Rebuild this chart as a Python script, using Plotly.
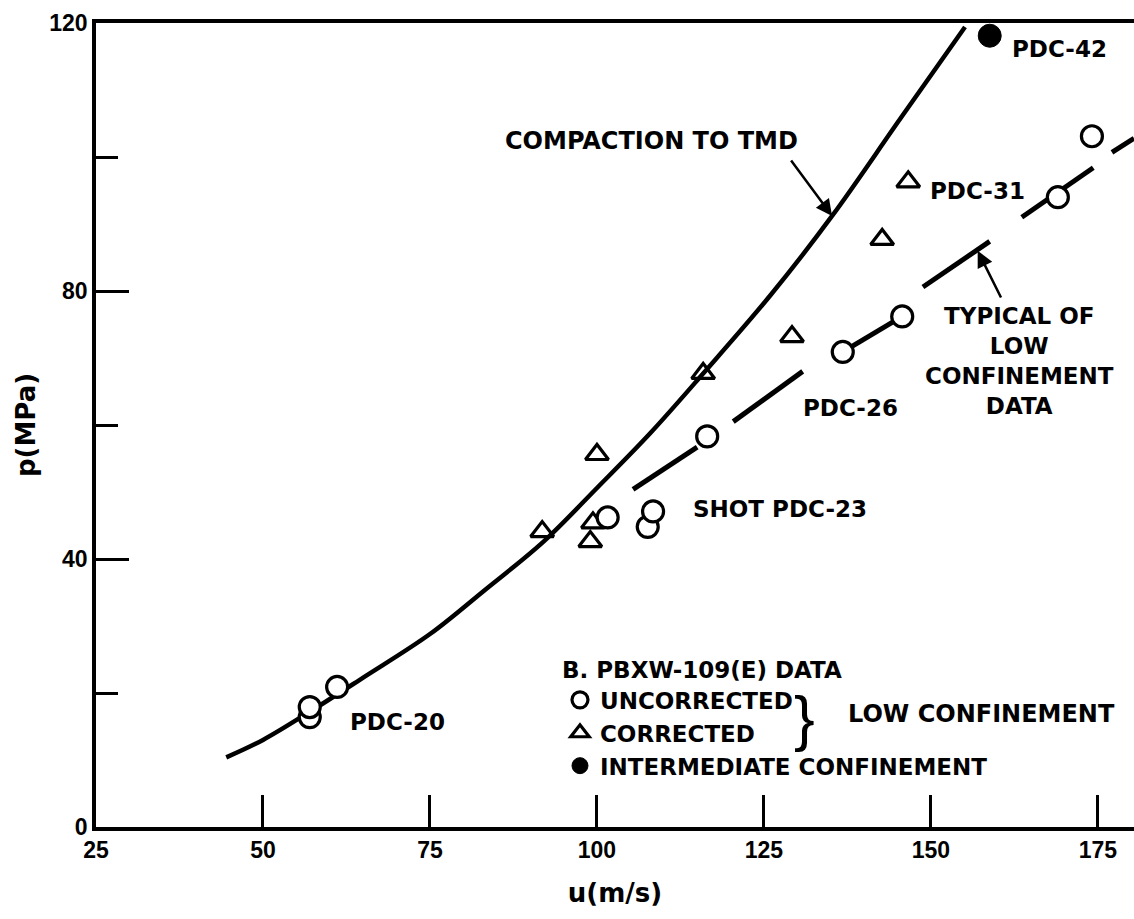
import plotly.graph_objects as go

# ---- data ----
# compaction-to-TMD curve
tmd_u = [44.5, 50.0, 57.0, 65.0, 75.0, 83.0, 92.0, 100.0, 108.0, 116.0, 126.0, 135.2, 145.4, 155.1]
tmd_p = [10.4, 13.0, 17.2, 22.3, 28.8, 35.2, 42.6, 50.6, 58.8, 67.8, 79.4, 91.2, 105.7, 119.4]

# "typical of low confinement data" dashed line (segments separated by None)
typ_u = [105.4, 115.0, None, 120.4, 130.8, None, 136.8, 145.7, None,
         148.8, 158.8, None, 163.6, 174.3, None, 177.1, 180.4]
typ_p = [50.4, 56.7, None, 60.5, 68.0, None, 70.9, 76.2, None,
         80.6, 87.4, None, 91.0, 98.4, None, 100.7, 102.8]

# uncorrected (low confinement) - open circles
unc_u = [57.0, 57.0, 61.1, 101.6, 107.6, 108.4, 116.5, 136.8, 145.7, 169.0, 174.1]
unc_p = [16.4, 17.9, 20.9, 46.2, 44.8, 47.1, 58.3, 70.9, 76.2, 94.0, 103.1]

# corrected (low confinement) - open triangles
cor_u = [91.8, 99.0, 99.4, 100.0, 115.9, 129.2, 142.7, 146.6]
cor_p = [44.1, 42.6, 45.4, 55.6, 67.7, 73.2, 87.7, 96.3]

# intermediate confinement - filled circle
int_u = [158.8]
int_p = [118.1]

x_ticks = [25, 50, 75, 100, 125, 150, 175]
y_ticks = [0, 40, 80, 120]

BOLD = "DejaVu Sans"
TICKF = "Liberation Sans Narrow, Liberation Sans, Arial"

fig = go.Figure()

fig.add_trace(go.Scatter(x=tmd_u, y=tmd_p, mode="lines",
                         line=dict(color="black", width=4.5, shape="spline", smoothing=1.0),
                         showlegend=False, hoverinfo="skip"))
fig.add_trace(go.Scatter(x=typ_u, y=typ_p, mode="lines", line=dict(color="black", width=5),
                         connectgaps=False, showlegend=False, hoverinfo="skip"))
fig.add_trace(go.Scatter(x=cor_u, y=cor_p, mode="markers", name="CORRECTED", legendrank=2,
                         marker=dict(symbol="triangle-up-open", size=20, color="black",
                                     line=dict(width=3.2, color="black"))))
fig.add_trace(go.Scatter(x=unc_u, y=unc_p, mode="markers", name="UNCORRECTED", legendrank=1,
                         marker=dict(symbol="circle", size=21, color="white",
                                     line=dict(width=3.2, color="black"))))
fig.add_trace(go.Scatter(x=int_u, y=int_p, mode="markers", name="INTERMEDIATE CONFINEMENT", legendrank=3,
                         marker=dict(symbol="circle", size=23, color="black", line=dict(width=1, color="black")),
                         cliponaxis=False))

anno_font = dict(family=BOLD, size=23, color="black", weight="bold")
annos = [
    dict(x=108.1, y=102.4, text="COMPACTION TO TMD", showarrow=False,
         font=dict(family=BOLD, size=24, color="black", weight="bold")),
    dict(x=169.2, y=116.1, text="PDC-42", showarrow=False, font=anno_font),
    dict(x=157.0, y=94.9, text="PDC-31", showarrow=False, font=anno_font),
    dict(x=163.3, y=69.6, text="TYPICAL OF<br>LOW<br>CONFINEMENT<br>DATA", showarrow=False,
         font=anno_font, align="center"),
    dict(x=137.9, y=62.6, text="PDC-26", showarrow=False, font=anno_font),
    dict(x=127.4, y=47.4, text="SHOT PDC-23", showarrow=False, font=anno_font),
    dict(x=70.2, y=15.7, text="PDC-20", showarrow=False, font=anno_font),
    dict(x=131.0, y=16.4, text="}", showarrow=False,
         font=dict(family="Liberation Sans, Arial", size=62, color="black")),
    dict(x=157.6, y=16.9, text="LOW CONFINEMENT", showarrow=False,
         font=dict(family=BOLD, size=24, color="black", weight="bold")),
    # arrows
    dict(x=135.2, y=91.2, ax=128.9, ay=99.7, axref="x", ayref="y", xref="x", yref="y", text="",
         showarrow=True, arrowhead=2, arrowsize=1.3, arrowwidth=2.5, arrowcolor="black"),
    dict(x=157.0, y=86.0, ax=160.6, ay=78.8, axref="x", ayref="y", xref="x", yref="y", text="",
         showarrow=True, arrowhead=2, arrowsize=1.3, arrowwidth=2.5, arrowcolor="black"),
]

fig.update_layout(
    width=1134, height=919,
    margin=dict(l=96, r=0, t=23, b=92),
    paper_bgcolor="white", plot_bgcolor="white",
    annotations=annos,
    legend=dict(
        x=0.447, y=0.222, xanchor="left", yanchor="top",
        bgcolor="rgba(0,0,0,0)", borderwidth=0,
        font=dict(family=BOLD, size=23, color="black", weight="bold"),
        title=dict(text="B. PBXW-109(E) DATA", font=dict(family=BOLD, size=23, color="black", weight="bold")),
        itemsizing="trace", tracegroupgap=0,
    ),
    xaxis=dict(
        range=[25, 180.4], tickmode="array", tickvals=x_ticks, ticktext=[str(v) for v in x_ticks],
        ticks="inside", ticklen=32, tickwidth=2.5, tickcolor="black",
        showline=True, linewidth=3.5, linecolor="black", mirror=True,
        showgrid=False, zeroline=False,
        tickfont=dict(family=TICKF, size=23, color="black", weight="bold"),
        title=dict(text="u(m/s)", font=dict(family=BOLD, size=26, color="black", weight="bold"), standoff=22),
    ),
    yaxis=dict(
        range=[0, 120], tickmode="array", tickvals=y_ticks, ticktext=[str(v) for v in y_ticks],
        ticks="inside", ticklen=33, tickwidth=3, tickcolor="black",
        minor=dict(tickmode="array", tickvals=[20, 60, 100], ticks="inside", ticklen=22,
                   tickwidth=3, tickcolor="black"),
        showline=True, linewidth=3.5, linecolor="black",
        showgrid=False, zeroline=False,
        tickfont=dict(family=TICKF, size=23, color="black", weight="bold"),
        title=dict(text="p(MPa)", font=dict(family=BOLD, size=26, color="black", weight="bold"), standoff=7),
    ),
)

fig.write_html("out.html", config={"displayModeBar": False},
               post_script="document.body.style.margin='0px';")
